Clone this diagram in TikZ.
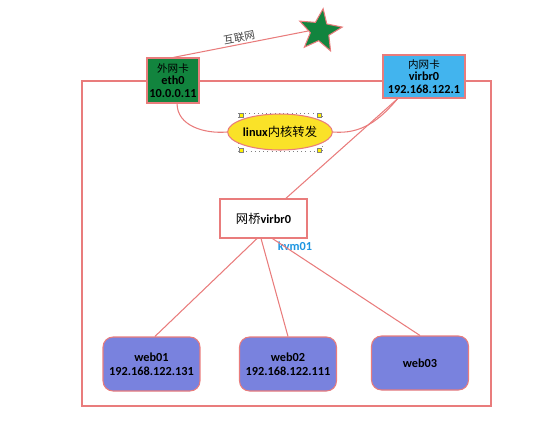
\documentclass[tikz,border=0pt]{standalone}
\usepackage{fontspec}
\setmainfont{Carlito}
\newfontfamily\cjk{Noto Sans CJK SC}
\usetikzlibrary{shapes.geometric}
\definecolor{linkred}{RGB}{233,124,124}
\definecolor{nicgreen}{RGB}{18,132,62}
\definecolor{nicblue}{RGB}{66,180,238}
\definecolor{vmblue}{RGB}{121,130,222}
\definecolor{coreyellow}{RGB}{250,226,40}
\definecolor{kvmblue}{RGB}{30,150,225}

\begin{document}
\begin{tikzpicture}[x=0.02cm,y=-0.02cm,line width=0.6pt,
    nic/.style={rectangle,draw=linkred,font=\bfseries\fontsize{7}{7.2}\selectfont,align=center,inner sep=1pt},
    vm/.style={rectangle,rounded corners=0.2cm,draw=linkred,fill=vmblue,minimum width=1.94cm,minimum height=1.08cm,font=\bfseries\fontsize{7}{7.8}\selectfont,align=center},
    link/.style={draw=linkred}]
      \useasboundingbox (0,0) rectangle (560,430);

      % host box
      \draw[linkred] (82,81) rectangle (491,406);

      \node [nic, fill=nicgreen, minimum width=1.04cm, minimum height=0.9cm] (eth0) at (173,80.5) {{\cjk\mdseries\fontsize{6}{7.2}\selectfont 外网卡}\\eth0\\10.0.0.11};
      \node [nic, fill=nicblue, minimum width=1.64cm, minimum height=0.86cm] (virbr0) at (424,76.5) {{\cjk\mdseries\fontsize{6}{7.2}\selectfont 内网卡}\\virbr0\\192.168.122.1};
      \node [star, star points=5, star point ratio=2.3, minimum size=0.9cm, inner sep=0pt, draw=linkred, fill=nicgreen, rotate=-8] (inet) at (320,31) {};

      % kernel forwarding
      \draw[gray, dotted, line width=0.4pt] (238,113) rectangle (322,151);
      \node [ellipse, draw=linkred, fill=coreyellow, minimum width=1.58cm, minimum height=0.72cm, inner sep=0pt, font=\bfseries\fontsize{7}{8}\selectfont] (core) at (280,132) {linux{\cjk\mdseries 内核转发}};
      \foreach \x/\y in {241/115, 319/115, 241/150, 319/150}
        \draw[line width=0.3pt, gray, fill=yellow] (\x-2,\y-2) rectangle (\x+2,\y+2);

      \node [rectangle, draw=linkred, fill=white, minimum width=1.74cm, minimum height=0.78cm, font=\bfseries\fontsize{7}{8}\selectfont] (bridge) at (263.5,218.5) {{\cjk\mdseries 网桥}virbr0};
      \node [font=\bfseries\fontsize{7}{8}\selectfont, text=kvmblue] (kvm) at (295,246) {kvm01};

      \node [vm] (web01) at (151.5,364) {web01\\192.168.122.131};
      \node [vm] (web02) at (288,364) {web02\\192.168.122.111};
      \node [vm] (web03) at (420,363) {web03};

      \draw[link] (eth0.north) -- node[sloped, above, inner sep=1pt, font=\cjk\fontsize{6}{7}\selectfont, text=darkgray] {互联网} (inet.188);
      \draw[link] (eth0.-80) to[out=-90, in=185] (core.west);
      \draw[link] (core.east) to[out=-5, in=230] (virbr0.-140);
      \draw[link] (virbr0.220) -- (bridge.42);

      \draw[link] (bridge.-108) -- (web01.83);
      \draw[link] (bridge.-97) -- (web02.north);
      \draw[link] (bridge.-66) -- (web03.north);
\end{tikzpicture}
\end{document}
